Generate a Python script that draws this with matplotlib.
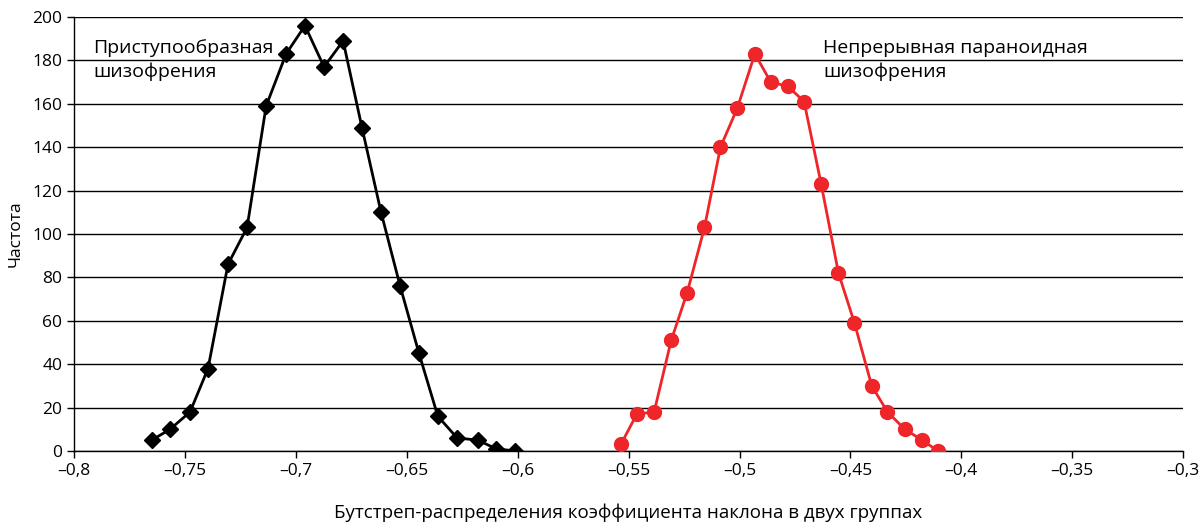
import numpy as np
import matplotlib
matplotlib.use('Agg')
import matplotlib.pyplot as plt

plt.rcParams['font.family'] = ['Open Sans', 'DejaVu Sans']

# Приступообразная шизофрения
x_black = [-0.765, -0.7567, -0.7477, -0.7396, -0.7306, -0.722, -0.7134, -0.7044, -0.6959, -0.6873,
           -0.6787, -0.6702, -0.6616, -0.653, -0.6445, -0.636, -0.6273, -0.618, -0.6097, -0.601]
y_black = [5, 10, 18, 38, 86, 103, 159, 183, 196, 177, 189, 149, 110, 76, 45, 16, 6, 5, 1, 0]

# Непрерывная параноидная шизофрения
x_red = [-0.5535, -0.5463, -0.5385, -0.5308, -0.5236, -0.5158, -0.5086, -0.501, -0.4931, -0.4859,
         -0.4781, -0.4709, -0.4632, -0.4554, -0.4482, -0.4404, -0.4333, -0.4255, -0.4177, -0.4105]
y_red = [3, 17, 18, 51, 73, 103, 140, 158, 183, 170, 168, 161, 123, 82, 59, 30, 18, 10, 5, 0]

x_ticks = [-0.8, -0.75, -0.7, -0.65, -0.6, -0.55, -0.5, -0.45, -0.4, -0.35, -0.3]
x_labels = ['–0,8', '–0,75', '–0,7', '–0,65', '–0,6', '–0,55', '–0,5', '–0,45', '–0,4', '–0,35', '–0,3']
y_ticks = [0, 20, 40, 60, 80, 100, 120, 140, 160, 180, 200]

fig = plt.figure(figsize=(12, 5.23), dpi=100)
ax = fig.add_axes([0.0617, 0.1377, 0.9243, 0.8298])

ax.plot(x_black, y_black, color='black', lw=2, marker='D', ms=8, zorder=3)
ax.plot(x_red, y_red, color='#ee2529', lw=2, marker='o', ms=10, zorder=3)

ax.set_xlim(-0.8, -0.3)
ax.set_ylim(0, 200)
ax.set_xticks(x_ticks)
ax.set_xticklabels(x_labels)
ax.set_yticks(y_ticks)
ax.yaxis.grid(True, color='black', lw=1)
ax.set_axisbelow(True)
ax.tick_params(labelsize=12.5, length=5, width=1, color='black', direction='out')
for s in ['top', 'right']:
    ax.spines[s].set_visible(False)
for s in ['left', 'bottom']:
    ax.spines[s].set_linewidth(1)

ax.text(-0.7915, 190, 'Приступообразная\nшизофрения', fontsize=14, va='top', linespacing=1.4)
ax.text(-0.4623, 190, 'Непрерывная параноидная\nшизофрения', fontsize=14, va='top', linespacing=1.4)

ax.set_ylabel('Частота', fontsize=12.5, labelpad=6)
ax.set_xlabel('Бутстреп-распределения коэффициента наклона в двух группах', fontsize=13.5, labelpad=18)

fig.savefig('out.png', dpi=100)
